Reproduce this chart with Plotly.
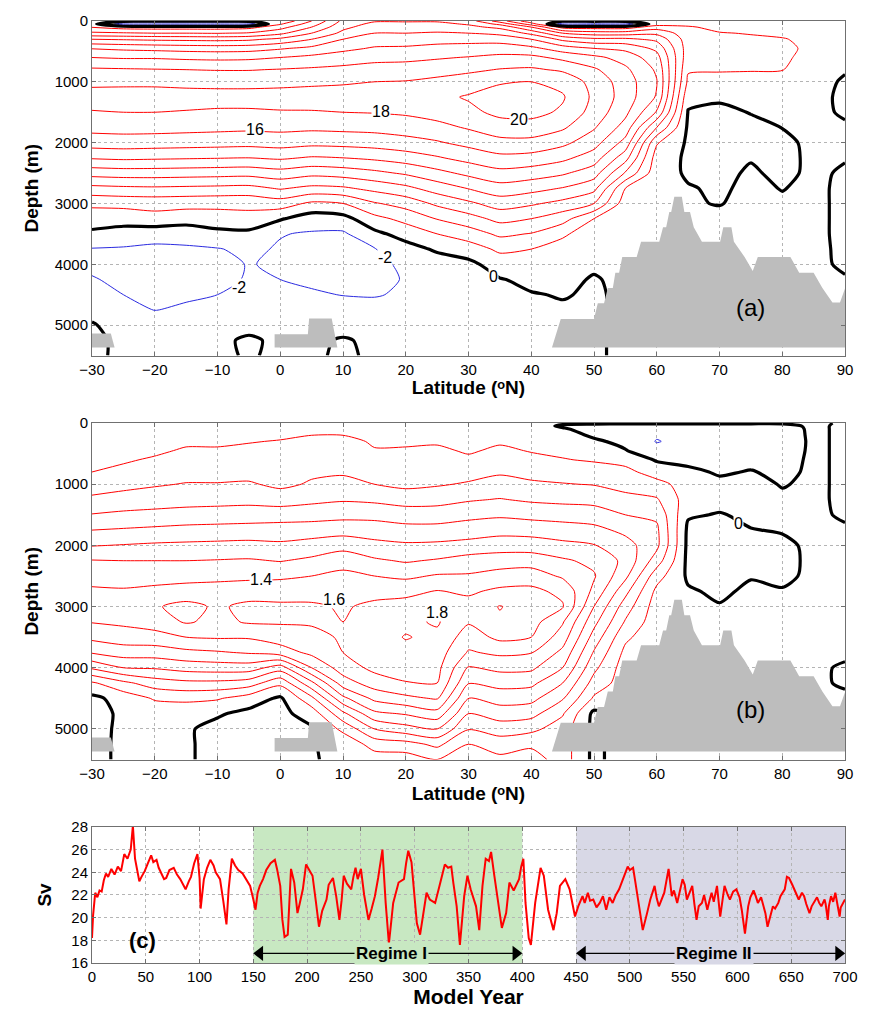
import numpy as np
import plotly.graph_objects as go

# ---------------------------------------------------------------------------
# Grid of the overturning streamfunction sections
# ---------------------------------------------------------------------------
lat = [-30, -25, -20, -15, -10, -5, 0, 5, 10, 15, 20, 25, 30, 35, 40, 45,
       50, 55, 60, 65, 70, 75, 80, 85, 90]
depth = [0, 50, 100, 200, 300, 450, 600, 800, 1000, 1250, 1500, 1750, 2000,
         2250, 2500, 2750, 3000, 3250, 3500, 3750, 4000, 4250, 4500, 4750,
         5000, 5250, 5500]

# (a) streamfunction (Sv), one profile per latitude, top to bottom
psi_a = [
    [0.5, 0.5, 1.9, 4.4, 8.0, 11.9, 14.0, 16.3, 17.6, 18.7, 17.9, 16.6, 15.0, 12.2, 8.8, 5.4, 2.4, 1.0, -0.4, -2.1, -2.6, -1.8, -1.0, -0.4, 0.1, 0.2, 0.2],
    [0.3, -3.0, 1.1, 4.2, 7.8, 11.6, 13.8, 16.2, 17.6, 18.8, 18.0, 16.7, 15.1, 12.4, 9.0, 5.6, 2.6, 0.8, -0.8, -2.2, -2.8, -2.6, -2.0, -1.2, -0.5, -0.2, -0.2],
    [0.3, -3.2, 1.0, 4.0, 7.6, 11.4, 13.8, 16.1, 17.6, 18.8, 18.0, 16.7, 15.0, 12.3, 9.0, 5.7, 2.7, 1.3, -1.2, -2.4, -3.0, -3.0, -2.6, -2.05, -1.0, -0.3, -0.2],
    [0.3, -3.2, 1.0, 4.0, 7.5, 11.2, 13.6, 16.0, 17.5, 18.7, 17.9, 16.6, 14.9, 12.2, 8.9, 5.6, 2.6, 1.0, -1.4, -2.2, -2.8, -2.8, -2.3, -1.7, -0.8, -0.3, -0.2],
    [0.3, -3.2, 1.0, 3.9, 7.4, 11.1, 13.5, 15.9, 17.5, 18.6, 17.8, 16.5, 14.8, 12.1, 8.8, 5.5, 2.5, 1.2, -0.6, -2.1, -2.6, -2.6, -2.0, -1.3, -0.5, -0.2, -0.2],
    [0.3, -3.0, 1.3, 4.2, 7.6, 11.2, 13.6, 15.9, 17.5, 18.6, 17.8, 16.4, 14.7, 12.0, 8.7, 5.4, 2.5, 1.4, -0.5, -1.6, -1.9, -1.8, -1.4, -0.8, -0.3, 0.15, 0.1],
    [0.3, 1.8, 3.2, 5.5, 8.5, 11.8, 14.0, 16.1, 17.6, 18.6, 17.9, 16.5, 14.9, 12.3, 9.2, 6.2, 3.0, 0.2, -1.9, -2.2, -2.3, -2.0, -1.5, -0.8, -0.2, -0.2, -0.2],
    [4.0, 5.0, 6.0, 8.0, 10.0, 12.5, 14.5, 16.3, 17.7, 18.7, 17.9, 16.4, 14.6, 11.8, 8.6, 5.5, 1.6, -1.0, -2.2, -2.5, -2.6, -2.3, -1.8, -1.0, -0.3, -0.2, -0.2],
    [8.5, 9.0, 9.5, 10.5, 12.0, 13.5, 15.0, 16.5, 17.8, 18.8, 18.0, 16.5, 14.7, 12.0, 8.9, 5.7, 2.0, -0.7, -2.3, -2.6, -2.6, -2.4, -2.05, -1.3, -0.4, 0.1, 0.2],
    [9.8, 10.5, 11.0, 12.0, 13.0, 14.2, 15.4, 16.8, 18.0, 19.0, 18.1, 16.6, 14.9, 12.4, 9.5, 6.6, 3.8, 1.4, -0.5, -2.1, -2.4, -2.4, -2.1, -1.5, -0.7, -0.2, -0.2],
    [9.8, 10.5, 11.0, 12.0, 13.0, 14.3, 15.5, 16.9, 18.1, 19.2, 18.3, 16.9, 15.3, 13.0, 10.3, 7.5, 4.8, 2.6, 0.8, -0.8, -1.7, -1.9, -1.8, -1.3, -0.6, -0.2, -0.2],
    [9.8, 10.5, 11.0, 12.2, 13.3, 14.6, 15.8, 17.2, 18.5, 19.5, 18.8, 17.4, 15.8, 13.8, 11.4, 8.9, 6.4, 4.1, 2.0, 0.3, -1.0, -1.4, -1.4, -1.0, -0.5, -0.2, -0.2],
    [9.0, 9.8, 10.5, 12.0, 13.3, 14.8, 16.1, 17.6, 19.0, 20.2, 19.5, 18.2, 16.6, 14.7, 12.5, 10.1, 7.6, 5.2, 3.0, 1.0, -0.5, -1.0, -1.0, -0.7, -0.3, -0.1, -0.1],
    [5.0, 7.5, 9.5, 11.5, 13.2, 15.0, 16.5, 18.1, 19.8, 20.9, 20.5, 19.1, 17.4, 15.5, 13.4, 11.2, 8.9, 6.6, 4.4, 2.4, 0.9, -0.1, -0.5, -0.4, -0.2, -0.1, -0.1],
    [0.5, 3.0, 6.0, 9.5, 12.0, 14.5, 16.5, 18.3, 20.0, 21.0, 20.6, 19.2, 17.4, 15.3, 13.0, 10.7, 8.3, 6.0, 3.9, 2.0, 1.0, 0.4, -0.1, -0.4, -0.3, -0.3, -0.3],
    [0.3, -3.0, 1.2, 6.0, 9.5, 13.0, 15.5, 17.7, 19.4, 20.2, 19.7, 18.3, 16.5, 14.5, 12.3, 9.9, 7.4, 4.8, 2.4, 1.0, 0.6, 0.3, 0.1, -0.2, -0.3, -0.3, -0.3],
    [0.3, -3.0, 1.0, 5.0, 8.5, 12.0, 14.5, 16.3, 17.3, 17.6, 17.2, 16.2, 14.8, 13.0, 10.9, 8.6, 6.0, 2.0, 0.6, 0.3, 0.2, -0.1, -0.2, -0.2, -0.2, -0.2, -0.2],
    [0.3, -3.0, 1.0, 5.0, 8.5, 11.5, 13.2, 14.4, 15.0, 15.1, 14.5, 13.2, 11.3, 8.8, 5.8, 2.0, 0.9, 0.6, 0.5, 0.4, 0.3, 0.3, 0.3, 0.3, 0.3, 0.3, 0.3],
    [0.3, 1.0, 3.0, 5.5, 7.5, 9.5, 10.8, 11.7, 12.1, 11.8, 9.8, 6.0, 2.2, 1.0, 0.7, 0.6, 0.5, 0.5, 0.5, 0.5, 0.5, 0.5, 0.5, 0.5, 0.5, 0.5, 0.5],
    [0.5, 1.5, 2.2, 2.8, 3.0, 3.0, 2.8, 2.2, 1.6, 0.5, -0.1, -0.3, -0.3, -0.3, -0.2, 0.1, 0.1, 0.1, 0.1, 0.1, 0.1, 0.1, 0.1, 0.1, 0.1, 0.1, 0.1],
    [0.4, 1.0, 1.5, 2.1, 2.4, 2.6, 2.5, 2.2, 1.2, 0.2, -0.3, -0.5, -0.5, -0.5, -0.4, -0.2, -0.05, 0.3, 0.3, 0.3, 0.3, 0.3, 0.3, 0.3, 0.3, 0.3, 0.3],
    [0.4, 0.9, 1.3, 1.9, 2.3, 2.5, 2.4, 2.1, 1.4, 0.5, 0.05, -0.3, -0.4, -0.1, 0.2, 0.3, 0.3, 0.3, 0.3, 0.3, 0.3, 0.3, 0.3, 0.3, 0.3, 0.3, 0.3],
    [0.3, 0.8, 1.1, 1.7, 2.1, 2.3, 2.2, 2.05, 1.3, 0.6, 0.2, 0.02, -0.3, -0.4, -0.35, -0.05, 0.2, 0.2, 0.2, 0.2, 0.2, 0.2, 0.2, 0.2, 0.2, 0.2, 0.2],
    [0.3, 0.6, 0.9, 1.3, 1.6, 1.7, 1.6, 1.3, 0.9, 0.6, 0.4, 0.3, 0.3, 0.3, 0.3, 0.3, 0.3, 0.3, 0.3, 0.3, 0.3, 0.3, 0.3, 0.3, 0.3, 0.3, 0.3],
    [0.2, 0.3, 0.4, 0.5, 0.5, 0.5, 0.4, 0.2, -0.3, -0.4, -0.2, 0.2, 0.2, 0.1, -0.2, -0.3, -0.3, -0.3, -0.3, -0.25, -0.2, 0.1, 0.1, 0.1, 0.1, 0.1, 0.1],
]

# (b) streamfunction, one profile per latitude, top to bottom
psi_b = [
    [0.02, 0.03, 0.05, 0.08, 0.10, 0.13, 0.16, 0.20, 0.30, 0.44, 0.61, 0.80, 0.99, 1.21, 1.33, 1.43, 1.50, 1.41, 1.25, 1.02, 0.63, 0.17, -0.05, -0.08, -0.05, -0.03, -0.03],
    [0.02, 0.04, 0.06, 0.09, 0.12, 0.15, 0.18, 0.24, 0.34, 0.48, 0.64, 0.82, 1.01, 1.20, 1.32, 1.42, 1.52, 1.44, 1.30, 1.10, 0.80, 0.35, 0.08, 0.04, 0.03, 0.02, 0.02],
    [0.03, 0.05, 0.07, 0.10, 0.13, 0.17, 0.22, 0.30, 0.38, 0.50, 0.66, 0.84, 1.03, 1.20, 1.32, 1.45, 1.58, 1.50, 1.32, 1.10, 0.82, 0.50, 0.22, 0.08, 0.03, 0.02, 0.02],
    [0.03, 0.06, 0.09, 0.13, 0.17, 0.22, 0.27, 0.33, 0.41, 0.52, 0.68, 0.86, 1.04, 1.20, 1.33, 1.48, 1.66, 1.62, 1.40, 1.15, 0.88, 0.55, 0.25, 0.05, 0.02, 0.02, 0.02],
    [0.03, 0.06, 0.09, 0.13, 0.17, 0.22, 0.27, 0.33, 0.41, 0.53, 0.69, 0.87, 1.05, 1.21, 1.35, 1.48, 1.57, 1.55, 1.42, 1.18, 0.90, 0.55, 0.22, 0.02, -0.05, -0.05, -0.05],
    [0.04, 0.07, 0.10, 0.15, 0.19, 0.24, 0.28, 0.34, 0.42, 0.54, 0.70, 0.88, 1.06, 1.22, 1.36, 1.50, 1.65, 1.62, 1.42, 1.22, 0.90, 0.50, 0.10, -0.05, -0.05, -0.03, -0.03],
    [0.05, 0.09, 0.12, 0.17, 0.21, 0.26, 0.30, 0.33, 0.36, 0.50, 0.72, 0.88, 1.04, 1.19, 1.37, 1.50, 1.64, 1.62, 1.50, 1.30, 0.70, 0.25, -0.03, -0.05, -0.04, -0.02, -0.02],
    [0.06, 0.10, 0.14, 0.20, 0.24, 0.29, 0.32, 0.37, 0.42, 0.55, 0.72, 0.90, 1.08, 1.24, 1.40, 1.52, 1.63, 1.62, 1.55, 1.45, 1.20, 0.75, 0.35, 0.08, -0.02, -0.01, -0.01],
    [0.10, 0.15, 0.18, 0.20, 0.25, 0.30, 0.34, 0.38, 0.45, 0.58, 0.74, 0.92, 1.13, 1.32, 1.45, 1.55, 1.58, 1.60, 1.62, 1.60, 1.50, 1.30, 0.95, 0.55, 0.25, 0.05, 0.03],
    [0.08, 0.10, 0.12, 0.15, 0.18, 0.21, 0.26, 0.32, 0.40, 0.56, 0.74, 0.90, 1.06, 1.23, 1.40, 1.54, 1.64, 1.70, 1.72, 1.70, 1.65, 1.50, 1.25, 0.95, 0.60, 0.28, 0.10],
    [0.07, 0.09, 0.11, 0.14, 0.17, 0.22, 0.25, 0.29, 0.35, 0.52, 0.70, 0.87, 1.03, 1.18, 1.36, 1.55, 1.67, 1.76, 1.81, 1.75, 1.68, 1.59, 1.35, 1.02, 0.72, 0.32, 0.10],
    [0.07, 0.09, 0.11, 0.14, 0.18, 0.23, 0.27, 0.31, 0.38, 0.53, 0.70, 0.87, 1.04, 1.22, 1.42, 1.61, 1.79, 1.82, 1.76, 1.70, 1.66, 1.60, 1.42, 1.12, 0.80, 0.45, 0.20],
    [0.04, 0.06, 0.08, 0.12, 0.15, 0.18, 0.23, 0.33, 0.42, 0.58, 0.74, 0.91, 1.06, 1.29, 1.42, 1.57, 1.67, 1.62, 1.50, 1.38, 1.18, 1.01, 0.79, 0.60, 0.41, 0.20, 0.08],
    [0.05, 0.08, 0.11, 0.15, 0.18, 0.23, 0.29, 0.38, 0.46, 0.61, 0.77, 0.93, 1.11, 1.30, 1.48, 1.64, 1.81, 1.77, 1.65, 1.44, 1.25, 1.07, 0.88, 0.70, 0.49, 0.30, 0.15],
    [0.05, 0.06, 0.08, 0.11, 0.14, 0.19, 0.24, 0.34, 0.43, 0.57, 0.74, 0.92, 1.10, 1.31, 1.50, 1.65, 1.70, 1.68, 1.60, 1.41, 1.24, 1.05, 0.86, 0.67, 0.45, 0.24, 0.10],
    [0.02, -0.02, 0.02, 0.08, 0.12, 0.16, 0.21, 0.31, 0.41, 0.55, 0.72, 0.89, 1.05, 1.23, 1.37, 1.55, 1.62, 1.42, 1.30, 1.15, 1.00, 0.80, 0.62, 0.42, 0.30, 0.30, 0.30],
    [0.02, -0.04, -0.06, -0.03, 0.03, 0.10, 0.18, 0.29, 0.39, 0.54, 0.69, 0.86, 1.01, 1.15, 1.22, 1.15, 1.00, 0.86, 0.72, 0.58, 0.45, 0.32, 0.17, -0.05, -0.05, -0.05, -0.05],
    [0.02, -0.05, -0.08, -0.07, -0.05, 0.01, 0.14, 0.25, 0.33, 0.46, 0.60, 0.75, 0.88, 0.95, 0.85, 0.66, 0.50, 0.38, 0.24, 0.15, 0.10, 0.10, 0.10, 0.10, 0.10, 0.10, 0.10],
    [0.02, -0.06, -0.12, -0.18, -0.21, -0.14, -0.02, 0.12, 0.26, 0.42, 0.56, 0.64, 0.65, 0.50, 0.28, 0.15, 0.10, 0.08, 0.06, 0.05, 0.05, 0.05, 0.05, 0.05, 0.05, 0.05, 0.05],
    [0.02, -0.06, -0.10, -0.12, -0.14, -0.10, -0.05, 0.04, 0.12, 0.10, 0.02, -0.04, -0.05, -0.05, -0.03, 0.02, 0.03, 0.03, 0.03, 0.03, 0.03, 0.03, 0.03, 0.03, 0.03, 0.03, 0.03],
    [0.02, -0.06, -0.10, -0.12, -0.12, -0.10, -0.07, -0.02, 0.04, 0.05, -0.01, -0.05, -0.06, -0.06, -0.05, -0.03, 0.01, 0.02, 0.02, 0.02, 0.02, 0.02, 0.02, 0.02, 0.02, 0.02, 0.02],
    [0.02, -0.06, -0.09, -0.10, -0.10, -0.08, -0.05, 0.01, 0.05, 0.05, 0.03, -0.005, -0.04, -0.05, -0.01, 0.03, 0.04, 0.04, 0.03, 0.03, 0.03, 0.03, 0.03, 0.03, 0.03, 0.03, 0.03],
    [0.02, -0.05, -0.07, -0.08, -0.09, -0.08, -0.06, -0.04, -0.01, 0.03, 0.03, 0.01, -0.03, -0.04, -0.03, 0.01, 0.03, 0.03, 0.03, 0.03, 0.03, 0.03, 0.03, 0.03, 0.03, 0.03, 0.03],
    [0.03, 0.03, 0.03, 0.03, 0.03, 0.03, 0.03, 0.03, 0.03, 0.03, 0.03, 0.03, 0.03, 0.03, 0.03, 0.03, 0.03, 0.03, 0.03, 0.03, 0.03, 0.03, 0.03, 0.03, 0.03, 0.03, 0.03],
    [-0.02, -0.03, -0.03, -0.03, -0.03, -0.03, -0.03, -0.03, -0.03, -0.03, -0.02, 0.02, 0.03, 0.03, 0.03, 0.03, 0.03, 0.03, 0.03, 0.03, -0.02, -0.02, 0.03, 0.03, 0.03, 0.03, 0.03],
]

# Sea-floor outline (latitude, depth) used in both sections
floor_west_lat = [-30.0, -27.0, -26.4, -30.0]
floor_west_depth = [5140, 5140, 5370, 5370]
floor_eq_lat = [-0.9, -0.9, 4.4, 4.6, 8.2, 9.1]
floor_eq_depth = [5370, 5150, 5150, 4890, 4890, 5370]
ridge_lat = [43.3, 44.7, 50.0, 50.6, 51.6, 52.2, 53.0, 53.4, 54.0, 54.5, 56.8, 57.5,
             60.4, 61.0, 61.5, 62.0, 62.3, 62.8, 64.0, 64.4, 65.3, 65.9, 67.2, 70.1,
             70.6, 71.9, 72.3, 74.0, 75.3, 76.1, 81.3, 82.7, 85.0, 86.4, 88.0, 89.2,
             90.0, 90.0]
ridge_depth = [5370, 4900, 4900, 4640, 4640, 4390, 4390, 4140, 4140, 3880, 3880, 3630,
               3630, 3390, 3390, 3140, 3140, 2890, 2890, 3140, 3140, 3390, 3630, 3630,
               3390, 3390, 3630, 3880, 4110, 3880, 3880, 4140, 4140, 4390, 4630, 4630,
               4400, 5370]

# (c) overturning strength time series
model_year = [0, 1, 3, 5, 7, 9, 11, 13, 15, 18, 21, 24, 27, 30, 33, 36, 38, 40, 42, 44,
              46, 49, 52, 55, 57, 60, 62, 64, 67, 69, 72, 76, 79, 82, 85, 87, 90, 92, 95, 98,
              100, 101, 104, 107, 110, 113, 115, 119, 122, 125, 127, 130, 133, 136, 140, 144, 147, 150, 152, 154,
              156, 159, 162, 166, 170, 172, 175, 177, 179, 182, 185, 188, 191, 193, 196, 199, 202, 205, 208, 211,
              214, 218, 220, 224, 227, 230, 232, 234, 237, 241, 243, 245, 247, 250, 253, 257, 260, 263, 266, 270,
              273, 276, 278, 280, 285, 290, 292, 294, 297, 300, 302, 305, 308, 311, 314, 319, 323, 326, 328, 331,
              334, 336, 339, 342, 344, 346, 349, 352, 357, 360, 363, 366, 369, 371, 374, 377, 381, 385, 388, 392,
              397, 399, 401, 403, 406, 408, 412, 417, 420, 424, 429, 432, 435, 440, 444, 449, 452, 456, 458, 461,
              463, 466, 469, 472, 475, 478, 481, 484, 487, 490, 495, 498, 500, 503, 505, 507, 510, 512, 516, 519,
              523, 525, 527, 532, 536, 537, 539, 541, 544, 549, 551, 553, 556, 558, 560, 562, 564, 567, 569, 572,
              574, 576, 578, 581, 584, 586, 588, 591, 593, 596, 599, 602, 604, 607, 610, 612, 615, 617, 619, 622,
              624, 626, 628, 631, 633, 635, 638, 640, 644, 646, 648, 651, 653, 655, 657, 660, 662, 664, 667, 669,
              671, 674, 676, 678, 681, 682, 684, 685, 687, 689, 691, 693, 695, 696, 698, 700]
amoc_sv = [18.2, 20.2, 22.2, 21.8, 22.4, 22.3, 23.3, 23.9, 23.6, 24.3, 23.8, 24.5, 24.1, 25.6, 25.2, 26.0, 28.1, 25.2, 24.2, 23.2,
           23.6, 24.1, 24.8, 25.5, 24.9, 25.1, 24.4, 24.0, 23.4, 23.5, 24.2, 24.4, 23.8, 23.4, 22.9, 22.5, 23.2, 23.6, 24.8, 25.6,
           23.5, 20.8, 23.4, 24.4, 25.1, 24.6, 24.0, 23.4, 21.5, 19.4, 22.5, 25.2, 24.6, 24.2, 23.9, 23.2, 22.8, 21.6, 20.7, 22.2,
           22.8, 23.4, 24.2, 24.8, 25.1, 24.3, 22.8, 19.8, 18.3, 18.5, 24.3, 23.1, 20.4, 21.2, 22.5, 24.7, 24.2, 23.7, 21.5, 19.2,
           20.6, 21.6, 22.9, 23.5, 21.9, 19.8, 21.5, 23.7, 23.0, 22.5, 23.6, 24.4, 23.4, 24.3, 22.0, 19.8, 20.8, 21.9, 23.5, 26.0,
           21.3, 17.7, 19.5, 21.3, 23.1, 23.4, 24.8, 25.9, 24.9, 21.5, 19.5, 18.5, 20.5, 22.2, 21.6, 21.3, 22.8, 24.0, 24.7, 24.4,
           24.5, 23.0, 21.0, 17.6, 20.1, 21.9, 23.7, 22.5, 21.0, 18.9, 22.8, 25.2, 25.0, 25.8, 23.7, 21.6, 19.1, 20.4, 23.1, 22.4,
           23.4, 24.5, 25.2, 21.3, 18.2, 17.6, 21.3, 24.4, 23.7, 20.7, 18.9, 20.4, 22.8, 23.4, 22.5, 20.1, 21.0, 21.9, 21.3, 22.2,
           21.5, 21.6, 20.9, 21.3, 21.9, 20.7, 21.8, 21.3, 22.0, 22.5, 23.7, 24.5, 24.2, 24.4, 23.2, 21.9, 20.3, 18.9, 20.4, 21.6,
           22.8, 21.7, 21.0, 22.2, 24.3, 23.5, 21.9, 22.4, 21.3, 23.4, 22.9, 21.6, 22.3, 22.8, 21.2, 19.8, 21.0, 21.3, 22.0, 20.7,
           21.5, 22.2, 21.4, 22.8, 20.1, 21.5, 22.8, 22.0, 21.6, 22.3, 22.5, 21.8, 20.7, 18.6, 21.0, 21.8, 22.4, 21.9, 21.3, 21.8,
           21.0, 20.4, 19.2, 20.3, 21.0, 20.8, 21.3, 21.9, 22.5, 23.6, 23.5, 22.9, 22.5, 22.1, 21.6, 22.2, 21.9, 21.2, 20.4, 21.0,
           21.3, 21.8, 21.3, 21.0, 21.6, 21.2, 19.8, 21.0, 21.9, 21.4, 22.2, 21.3, 20.1, 20.9, 21.3, 21.6]

regime_1 = (150, 400)
regime_2 = (450, 700)
regime_arrow_sv = 16.85

# ---------------------------------------------------------------------------
FONT = "Liberation Sans, Arial, Helvetica, sans-serif"
RED = "#ff0000"
BLUE = "#2a2adf"
GREY_FLOOR = "#bdbdbd"
GREEN_BAND = "#c8e8c2"
LILAC_BAND = "#d8d8e6"
LAT_TITLE = "<b>Latitude (\u1d52N)</b>"

fig = go.Figure()


def add_section(z_by_lat, pos_levels, neg_level, xa, ya):
    z = np.array(z_by_lat, dtype=float).T
    common = dict(x=lat, y=depth, z=z, xaxis=xa, yaxis=ya, showscale=False,
                  hoverinfo="skip", autocontour=False)
    fig.add_trace(go.Contour(**common,
                             contours=dict(start=pos_levels[0], end=pos_levels[1],
                                           size=pos_levels[2], coloring="none"),
                             line=dict(color=RED, width=1, smoothing=0.7)))
    fig.add_trace(go.Contour(**common,
                             contours=dict(start=neg_level, end=neg_level, size=1,
                                           coloring="none"),
                             line=dict(color=BLUE, width=1, smoothing=0.7)))
    fig.add_trace(go.Contour(**common,
                             contours=dict(start=0, end=0, size=1, coloring="none"),
                             line=dict(color="black", width=3.2, smoothing=0.7)))
    for lx, ly in ((floor_west_lat, floor_west_depth),
                   (floor_eq_lat, floor_eq_depth),
                   (ridge_lat, ridge_depth)):
        fig.add_trace(go.Scatter(x=lx, y=ly, xaxis=xa, yaxis=ya, mode="lines",
                                 fill="toself", fillcolor=GREY_FLOOR,
                                 line=dict(width=0, color=GREY_FLOOR),
                                 hoverinfo="skip", showlegend=False))


add_section(psi_a, (2, 20.01, 2), -2, "x", "y")
add_section(psi_b, (0.2, 1.81, 0.2), -0.2, "x2", "y2")

fig.add_trace(go.Scatter(x=model_year, y=amoc_sv, xaxis="x3", yaxis="y3",
                         mode="lines", line=dict(color=RED, width=2),
                         hoverinfo="skip", showlegend=False))

# double-headed regime arrows: shaft as a shape, heads as triangle markers
HEAD = 6  # half-length of an arrow head in model years
for x0, x1 in (regime_1, regime_2):
    fig.add_shape(type="line", xref="x3", yref="y3", x0=x0 + HEAD, x1=x1 - HEAD,
                  y0=regime_arrow_sv, y1=regime_arrow_sv,
                  line=dict(color="black", width=1.3))
    fig.add_trace(go.Scatter(x=[x0 + HEAD, x1 - HEAD], y=[regime_arrow_sv] * 2,
                             xaxis="x3", yaxis="y3", mode="markers",
                             marker=dict(symbol=["triangle-left", "triangle-right"],
                                         size=13, color="black", line=dict(width=0)),
                             hoverinfo="skip", showlegend=False))

# ---------------------------------------------------------------------------
grid = dict(showgrid=True, gridcolor="#b4b4b4", griddash="dot", gridwidth=1,
            zeroline=False, showline=True, linecolor="#707070", linewidth=1,
            mirror="ticks", ticks="inside", ticklen=4, tickcolor="#707070",
            tickfont=dict(family=FONT, size=15, color="black"))
title_font = dict(family=FONT, size=19, color="black")

lat_axis = dict(range=[-30, 90], tick0=-30, dtick=10, **grid)
depth_axis = dict(range=[5500, 0], tickvals=[0, 1000, 2000, 3000, 4000, 5000], **grid)

fig.update_layout(
    width=870, height=1016,
    margin=dict(l=92, r=17, t=16, b=51),
    paper_bgcolor="white", plot_bgcolor="white",
    showlegend=False,
    xaxis=dict(domain=[0, 1], anchor="y",
               title=dict(text=LAT_TITLE, font=title_font, standoff=4),
               **lat_axis),
    yaxis=dict(domain=[0.6449, 1.0], anchor="x",
               title=dict(text="<b>Depth (m)</b>", font=title_font, standoff=10),
               **depth_axis),
    xaxis2=dict(domain=[0, 1], anchor="y2",
                title=dict(text=LAT_TITLE, font=title_font, standoff=6),
                **lat_axis),
    yaxis2=dict(domain=[0.2160, 0.5732], anchor="x2",
                title=dict(text="<b>Depth (m)</b>", font=title_font, standoff=10),
                **depth_axis),
    xaxis3=dict(domain=[0, 1], anchor="y3", range=[0, 700], tick0=0, dtick=50,
                title=dict(text="<b>Model Year</b>", font=dict(family=FONT, size=21, color="black"),
                           standoff=4),
                **grid),
    yaxis3=dict(domain=[0, 0.1444], anchor="x3", range=[16, 28], tick0=16, dtick=2,
                title=dict(text="<b>Sv</b>", font=title_font, standoff=14),
                **grid),
)

# regime shading
for (x0, x1), col in ((regime_1, GREEN_BAND), (regime_2, LILAC_BAND)):
    fig.add_shape(type="rect", xref="x3", yref="y3 domain", x0=x0, x1=x1, y0=0, y1=1,
                  fillcolor=col, line=dict(width=0), layer="below")

annotations = []

# contour labels
label_font = dict(family=FONT, size=16, color="black")
for txt, x, y, xa, ya in (
        ("18", 16, 1480, "x", "y"), ("16", -4, 1790, "x", "y"),
        ("20", 38, 1620, "x", "y"), ("-2", -6.5, 4380, "x", "y"),
        ("-2", 16.7, 3890, "x", "y"), ("0", 34, 4200, "x", "y"),
        ("1.4", -3, 2560, "x2", "y2"), ("1.6", 8.5, 2880, "x2", "y2"),
        ("1.8", 25, 3100, "x2", "y2"), ("0", 73, 1640, "x2", "y2")):
    annotations.append(dict(text=txt, x=x, y=y, xref=xa, yref=ya, showarrow=False,
                            font=label_font, bgcolor="white", borderpad=0))

panel_font = dict(family=FONT, size=24, color="black")
annotations.append(dict(text="(a)", x=75, y=4710, xref="x", yref="y",
                        showarrow=False, font=panel_font))
annotations.append(dict(text="(b)", x=75, y=4690, xref="x2", yref="y2",
                        showarrow=False, font=panel_font))
annotations.append(dict(text="<b>(c)</b>", x=47, y=18.0, xref="x3", yref="y3",
                        showarrow=False, font=dict(family=FONT, size=22, color="black")))

# regime names sitting on the arrows
for (x0, x1), name, col in ((regime_1, "Regime I", GREEN_BAND),
                            (regime_2, "Regime II", LILAC_BAND)):
    annotations.append(dict(x=(x0 + x1) / 2 + 3, y=regime_arrow_sv, xref="x3", yref="y3",
                            text="<b>" + name + "</b>", showarrow=False,
                            font=dict(family=FONT, size=17, color="black"),
                            bgcolor=col, borderpad=1))

fig.update_layout(annotations=annotations)

fig.write_html("out.html")
